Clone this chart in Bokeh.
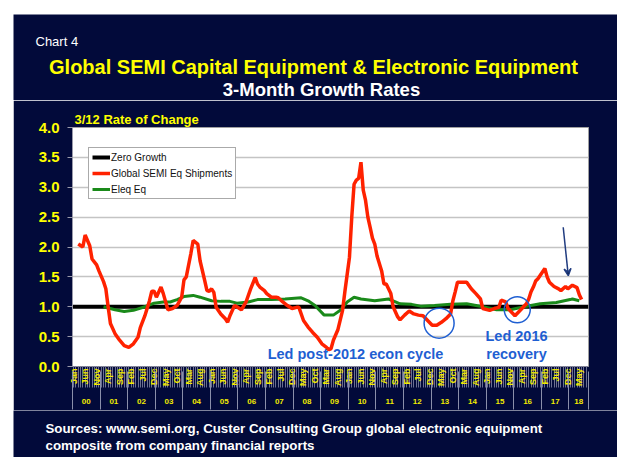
import math
from bokeh.plotting import figure
from bokeh.layouts import column, row
from bokeh.models import (FixedTicker, LinearAxis, Label, Legend, LegendItem, Range1d,
                          Arrow, VeeHead, PrintfTickFormatter)
from bokeh.embed import file_html
from bokeh.resources import INLINE

# ---------------- data ----------------
red_months = ["2000-03", "2000-05", "2000-06", "2000-08", "2000-09", "2000-11", "2000-12",
              "2001-02", "2001-03", "2001-04", "2001-05", "2001-07", "2001-09", "2001-11",
              "2002-01", "2002-03", "2002-05", "2002-06", "2002-08", "2002-10", "2002-11", "2002-12",
              "2003-01", "2003-03", "2003-04", "2003-06", "2003-08", "2003-10", "2003-12",
              "2004-01", "2004-02", "2004-04", "2004-05", "2004-07", "2004-08", "2004-10", "2004-11", "2004-12",
              "2005-01", "2005-02", "2005-03", "2005-05", "2005-07", "2005-08", "2005-09", "2005-11", "2005-12",
              "2006-02", "2006-04", "2006-06", "2006-08", "2006-09", "2006-10", "2006-12",
              "2007-01", "2007-03", "2007-05", "2007-06", "2007-08", "2007-10", "2007-12",
              "2008-02", "2008-03", "2008-05", "2008-07", "2008-09", "2008-11",
              "2009-01", "2009-03", "2009-04", "2009-05", "2009-06", "2009-08", "2009-10", "2009-11",
              "2010-01", "2010-02", "2010-03", "2010-04", "2010-05", "2010-06", "2010-07", "2010-08",
              "2010-09", "2010-10", "2010-11", "2010-12",
              "2011-01", "2011-03", "2011-04", "2011-05", "2011-07", "2011-08", "2011-10", "2011-11",
              "2012-01", "2012-03", "2012-05", "2012-07", "2012-09", "2012-11",
              "2013-01", "2013-03", "2013-05", "2013-07", "2013-09", "2013-10", "2013-11", "2013-12",
              "2014-02", "2014-04", "2014-06", "2014-08", "2014-10", "2014-11",
              "2015-02", "2015-04", "2015-06", "2015-07", "2015-09", "2015-10",
              "2016-01", "2016-03", "2016-06", "2016-07", "2016-08", "2016-09", "2016-10", "2016-11",
              "2017-02", "2017-03", "2017-04", "2017-06", "2017-08", "2017-09", "2017-11", "2017-12",
              "2018-02", "2018-04", "2018-05", "2018-06"]
red_values = [2.05, 2.00, 2.20, 2.02, 1.80, 1.70, 1.60,
              1.42, 1.30, 1.00, 0.72, 0.55, 0.44, 0.35,
              0.32, 0.38, 0.49, 0.65, 0.85, 1.10, 1.26, 1.26,
              1.16, 1.33, 1.22, 0.95, 0.97, 1.02, 1.16,
              1.45, 1.50, 1.89, 2.11, 2.05, 1.77, 1.44, 1.27, 1.26,
              1.30, 1.24, 0.99, 0.88, 0.80, 0.74, 0.85, 1.02, 1.00,
              0.95, 1.08, 1.30, 1.49, 1.38, 1.33, 1.27,
              1.22, 1.16, 1.16, 1.15, 1.08, 1.02, 0.97,
              0.99, 0.99, 0.77, 0.66, 0.57, 0.49,
              0.38, 0.32, 0.28, 0.30, 0.44, 0.62, 0.94, 1.25,
              1.83, 2.50, 3.05, 3.12, 3.15, 3.42, 2.95, 2.78,
              2.50, 2.33, 2.15, 2.05,
              1.85, 1.60, 1.38, 1.38, 1.22, 1.00, 0.83, 0.78,
              0.86, 0.93, 0.88, 0.86, 0.85, 0.77,
              0.69, 0.69, 0.74, 0.80, 0.88, 1.10, 1.25, 1.41,
              1.41, 1.41, 1.30, 1.22, 1.13, 0.97,
              0.94, 0.97, 0.99, 1.11, 1.08, 0.97,
              0.85, 0.93, 1.05, 1.13, 1.25, 1.33, 1.43, 1.47,
              1.64, 1.50, 1.41, 1.34, 1.30, 1.27, 1.34, 1.30,
              1.36, 1.32, 1.20, 1.12]

green_months = ["2001-02", "2001-07", "2001-11", "2002-03", "2002-08", "2002-12", "2003-04", "2003-07",
                "2003-10", "2004-01", "2004-05", "2004-08", "2005-01", "2005-05", "2005-09", "2005-12",
                "2006-05", "2006-09", "2007-03", "2007-09", "2008-04", "2008-07", "2008-10", "2009-02",
                "2009-06", "2009-09", "2009-12", "2010-03", "2010-06", "2010-12", "2011-06", "2011-08",
                "2011-11", "2012-04", "2012-08", "2013-02", "2013-09", "2014-04", "2014-11", "2015-05",
                "2015-11", "2016-05", "2016-12", "2017-07", "2018-01", "2018-02", "2018-05"]
green_values = [1.00, 0.95, 0.92, 0.94, 1.00, 1.06, 1.08, 1.08,
                1.12, 1.17, 1.19, 1.16, 1.10, 1.09, 1.09, 1.06,
                1.08, 1.12, 1.12, 1.13, 1.15, 1.10, 1.02, 0.86,
                0.86, 0.94, 1.08, 1.16, 1.13, 1.10, 1.13, 1.10,
                1.05, 1.04, 1.01, 1.02, 1.04, 1.05, 1.00, 0.95,
                0.95, 1.00, 1.05, 1.07, 1.12, 1.13, 1.10]

zero_growth = 1.0
first_year = 2000
axis_months = 224          # month slots on the category axis (Jan 2000 .. Aug 2018)
month_names = ["Jan", "Feb", "Mar", "Apr", "May", "Jun", "Jul", "Aug", "Sep", "Oct", "Nov", "Dec"]
year_labels = ["00", "01", "02", "03", "04", "05", "06", "07", "08", "09",
               "10", "11", "12", "13", "14", "15", "16", "17", "18"]
y_ticks = [0.0, 0.5, 1.0, 1.5, 2.0, 2.5, 3.0, 3.5, 4.0]

highlight_months = ["2013-04", "2016-02"]
highlight_values = [0.725, 0.95]
highlight_sizes = [30, 26]
arrow_from = ("2017-10", 2.33)
arrow_to = ("2018-01", 1.52)


def midx(s):
    y, m = s.split("-")
    return (int(y) - first_year) * 12 + int(m) - 1


red_x = [midx(s) for s in red_months]
green_x = [midx(s) for s in green_months]
x_start = -0.5
x_end = axis_months - 0.0

NAVY = "#020a3a"
YEL = "#ffff00"
MYEL = "#f2ea00"
BLUE = "#1f5fd2"
FONT = "Liberation Sans"
W = 604
PAD_LEFT, PAD_TOP = 13, 14


def blank(w, h, color="white"):
    f = figure(width=w, height=h, output_backend="svg", toolbar_location=None,
               x_axis_type=None, y_axis_type=None, min_border=0)
    f.frame_align = False
    f.outline_line_color = None
    f.background_fill_color = color
    f.border_fill_color = color
    f.grid.visible = False
    return f


def text_panel(h):
    f = blank(W, h, NAVY)
    f.x_range = Range1d(0, W)
    f.y_range = Range1d(h, 0)
    return f


def plab(f, text, x, y, size, color, style="bold", align="left"):
    f.add_layout(Label(x=x, y=y, text=text, text_font=FONT, text_font_size=size,
                       text_font_style=style, text_color=color, text_align=align,
                       text_baseline="middle"))


# ---------------- header (page y 14..100) ----------------
head = text_panel(86)
plab(head, "Chart 4", 22, 27, "13px", "white", style="normal")
plab(head, "Global SEMI Capital Equipment & Electronic Equipment", 300, 52, "20px", YEL, align="center")
plab(head, "3-Month Growth Rates", 308, 75, "18.5px", "white", align="center")

# ---------------- main chart (page y 100..410) ----------------
p = figure(width=W, height=310, output_backend="svg", toolbar_location=None,
           x_range=Range1d(x_start, x_end), y_range=Range1d(0, 4),
           min_border_left=59, min_border_right=29, min_border_top=27, min_border_bottom=44,
           title="3/12 Rate of Change")
p.frame_align = False
p.border_fill_color = NAVY
p.background_fill_color = "white"
p.outline_line_color = "#a0a0a0"
p.title.align = "left"
p.title.offset = 2
p.title.text_color = YEL
p.title.text_font = FONT
p.title.text_font_size = "13px"
p.title.text_font_style = "bold"
p.title.standoff = 1

p.yaxis.ticker = FixedTicker(ticks=y_ticks)
p.yaxis.formatter = PrintfTickFormatter(format="%.1f")
p.yaxis.major_label_text_color = YEL
p.yaxis.major_label_text_font = FONT
p.yaxis.major_label_text_font_style = "bold"
p.yaxis.major_label_text_font_size = "15px"
p.yaxis.major_tick_out = 5
p.yaxis.major_tick_in = 0
p.yaxis.minor_tick_line_color = None
p.yaxis.major_tick_line_color = "#9a9aaa"
p.yaxis.axis_line_color = "#9a9aaa"
p.yaxis.major_label_standoff = 8
p.ygrid.ticker = FixedTicker(ticks=y_ticks)
p.ygrid.grid_line_color = "#c4c4c4"
p.ygrid.grid_line_width = 1.5
p.xgrid.visible = False

all_months = list(range(0, axis_months))
label_months = list(range(0, axis_months, 5))
ax = p.xaxis[0]
ax.ticker = FixedTicker(ticks=label_months, minor_ticks=all_months)
ax.major_label_overrides = {m: month_names[m % 12] for m in label_months}
ax.major_label_orientation = math.pi / 2
ax.major_label_text_color = MYEL
ax.major_label_text_font = FONT
ax.major_label_text_font_style = "bold"
ax.major_label_text_font_size = "9px"
ax.major_label_standoff = -19
ax.major_tick_out = 0
ax.major_tick_in = 0
ax.minor_tick_out = 21
ax.minor_tick_in = 0
ax.minor_tick_line_color = "#6a6f90"
ax.axis_line_color = "#8a8a9a"

year_centers = []
separators = []
for i, lab in enumerate(year_labels):
    s = 12 * i - 0.5
    e = min(12 * i + 11.5, x_end)
    year_centers.append((s + e) / 2)
    separators.append(s)
separators.append(x_end)
ax2 = LinearAxis(ticker=FixedTicker(ticks=year_centers, minor_ticks=separators),
                 major_label_overrides={c: l for c, l in zip(year_centers, year_labels)})
ax2.major_label_text_color = MYEL
ax2.major_label_text_font = FONT
ax2.major_label_text_font_style = "bold"
ax2.major_label_text_font_size = "8px"
ax2.major_label_standoff = -11
ax2.major_tick_out = 0
ax2.major_tick_in = 0
ax2.minor_tick_in = 18
ax2.minor_tick_out = 20
ax2.minor_tick_line_color = "#8a8faa"
ax2.axis_line_color = None
p.add_layout(ax2, "below")

r0 = p.line([x_start, x_end], [zero_growth, zero_growth], line_color="black", line_width=4)
r2 = p.line(green_x, green_values, line_color="#1a8a1a", line_width=3)
r1 = p.line(red_x, red_values, line_color="#ff2200", line_width=3.5)

legend = Legend(items=[LegendItem(label="Zero Growth", renderers=[r0]),
                       LegendItem(label="Global SEMI Eq Shipments", renderers=[r1]),
                       LegendItem(label="Eleq Eq", renderers=[r2])],
                location=(16, 167))
legend.label_text_font = FONT
legend.label_text_font_size = "10px"
legend.label_text_color = "#111111"
legend.glyph_width = 18
legend.glyph_height = 12
legend.label_height = 12
legend.label_standoff = 1
legend.spacing = 4
legend.padding = 3
legend.margin = 0
legend.border_line_color = "#555555"
legend.border_line_width = 1
legend.background_fill_alpha = 1
p.add_layout(legend)

hx = [midx(s) for s in highlight_months]
p.scatter(hx, highlight_values, size=highlight_sizes, marker="circle", fill_color=None,
          line_color=BLUE, line_width=1.5)
p.add_layout(Arrow(end=VeeHead(size=7, line_color="#203c80", line_width=1.5),
                   x_start=midx(arrow_from[0]), y_start=arrow_from[1],
                   x_end=midx(arrow_to[0]) - 0.8, y_end=arrow_to[1],
                   line_color="#203c80", line_width=1.5))


def lab(text, x, y, size, color, style="bold", align="center"):
    # x, y: page pixels -> screen units relative to the frame (left=72, bottom=366)
    p.add_layout(Label(x=x - 72, y=366 - y, x_units="screen", y_units="screen", text=text,
                       text_font=FONT, text_font_size=size, text_font_style=style,
                       text_color=color, text_align=align, text_baseline="middle"))


lab("Led post-2012 econ cycle", 355, 353, "14.5px", BLUE)
lab("Led 2016", 516, 335, "14.5px", BLUE)
lab("recovery", 516, 353, "14.5px", BLUE)

# ---------------- footer (page y 410..457) ----------------
foot = text_panel(47)
plab(foot, "Sources: www.semi.org, Custer Consulting Group global electronic equipment", 32, 18, "13.3px", "white")
plab(foot, "composite from company financial reports", 32, 35, "13.3px", "white")

body = column(head, p, foot, spacing=0)
layout = column(blank(W + PAD_LEFT, PAD_TOP),
                row(blank(PAD_LEFT, 86 + 310 + 47), body, spacing=0),
                spacing=0)

open("out.html", "w").write(file_html(layout, INLINE))
